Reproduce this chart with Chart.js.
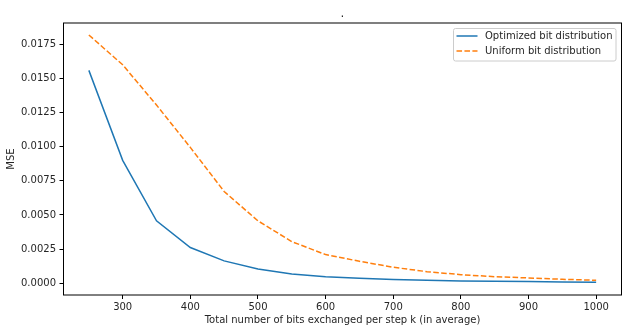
<!DOCTYPE html>
<html>
<head>
<meta charset="utf-8">
<script src="https://cdn.jsdelivr.net/npm/chart.js@4"></script>
<style>
  html, body { margin: 0; padding: 0; background: #fff; }
  #wrap { width: 631px; height: 333px; }
</style>
</head>
<body>
<div id="wrap"><canvas id="mseChart" width="631" height="333"></canvas></div>
<script>
var bits = [250, 300, 350, 400, 450, 500, 550, 600, 650, 700, 750, 800, 850, 900, 950, 1000];
var optimizedMse = [0.01559, 0.00900, 0.00457, 0.00262, 0.00164, 0.00105, 0.00068, 0.00047, 0.00037, 0.00027, 0.00022, 0.00017, 0.00015, 0.00012, 0.00010, 0.00007];
var uniformMse = [0.01818, 0.01600, 0.01305, 0.00995, 0.00672, 0.00457, 0.00305, 0.00210, 0.00161, 0.00117, 0.00085, 0.00063, 0.00048, 0.00039, 0.00029, 0.00022];
var xTicks = [300, 400, 500, 600, 700, 800, 900, 1000];
var yTicks = [0, 0.0025, 0.005, 0.0075, 0.01, 0.0125, 0.015, 0.0175];
var seriesNames = ["Optimized bit distribution", "Uniform bit distribution"];
var chartTitle = ".";
var xTitle = "Total number of bits exchanged per step k (in average)";
var yTitle = "MSE";

var FONT = "'DejaVu Sans', sans-serif";
var TXT = "#262626";

function toPts(xs, ys) {
    return xs.map(function(x, i) { return {x: x, y: ys[i]}; });
}

// box around plot, title and legend like matplotlib
var extras = {
    id: "extras",
    afterDraw: function(chart) {
        var ctx = chart.ctx;
        var a = chart.chartArea;
        ctx.save();
        ctx.strokeStyle = "#000";
        ctx.lineWidth = 1;
        ctx.strokeRect(a.left, a.top, a.right - a.left, a.bottom - a.top);

        ctx.fillStyle = TXT;
        ctx.font = "12px " + FONT;
        ctx.textAlign = "center";
        ctx.textBaseline = "alphabetic";
        ctx.fillText(chartTitle, (a.left + a.right) / 2, 17);

        // legend
        var bx = 453.5, by = 28.5, bw = 162.5, bh = 32.5, r = 2;
        ctx.beginPath();
        ctx.moveTo(bx + r, by);
        ctx.arcTo(bx + bw, by, bx + bw, by + bh, r);
        ctx.arcTo(bx + bw, by + bh, bx, by + bh, r);
        ctx.arcTo(bx, by + bh, bx, by, r);
        ctx.arcTo(bx, by, bx + bw, by, r);
        ctx.closePath();
        ctx.fillStyle = "rgba(255,255,255,0.8)";
        ctx.fill();
        ctx.strokeStyle = "#cccccc";
        ctx.stroke();

        ctx.font = "10px " + FONT;
        ctx.textAlign = "left";
        ctx.textBaseline = "middle";
        chart.data.datasets.forEach(function(ds, i) {
            var ly = 36 + i * 15;
            ctx.beginPath();
            ctx.strokeStyle = ds.borderColor;
            ctx.lineWidth = ds.borderWidth;
            ctx.setLineDash(ds.borderDash || []);
            ctx.moveTo(456.5, ly);
            ctx.lineTo(477.5, ly);
            ctx.stroke();
            ctx.setLineDash([]);
            ctx.fillStyle = TXT;
            ctx.fillText(ds.label, 485, ly + 0.5);
        });
        ctx.restore();
    }
};

var chart = new Chart(document.getElementById("mseChart").getContext("2d"), {
    type: "line",
    data: {
        datasets: [{
            label: seriesNames[0],
            data: toPts(bits, optimizedMse),
            borderColor: "#1f77b4",
            borderWidth: 1.5,
            pointRadius: 0,
            fill: false,
            tension: 0
        }, {
            label: seriesNames[1],
            data: toPts(bits, uniformMse),
            borderColor: "#ff7f0e",
            borderWidth: 1.5,
            borderDash: [5.55, 2.4],
            pointRadius: 0,
            fill: false,
            tension: 0
        }]
    },
    options: {
        responsive: false,
        animation: false,
        layout: {padding: {top: 23, right: 9.5, left: 0, bottom: 0}},
        plugins: {legend: {display: false}, tooltip: {enabled: false}},
        scales: {
            x: {
                type: "linear",
                min: 212.5,
                max: 1037.5,
                afterBuildTicks: function(s) { s.ticks = xTicks.map(function(v) { return {value: v}; }); },
                afterFit: function(s) { s.height = 38; },
                grid: {drawOnChartArea: false, drawTicks: true, tickLength: 4, color: "#000"},
                border: {display: false},
                ticks: {
                    color: TXT, font: {family: FONT, size: 10}, padding: 2, maxRotation: 0,
                    callback: function(v) { return String(v); }
                },
                title: {display: true, text: xTitle, color: TXT, font: {family: FONT, size: 10}, padding: {top: 0, bottom: 7}}
            },
            y: {
                min: -0.00086,
                max: 0.01906,
                afterBuildTicks: function(s) { s.ticks = yTicks.map(function(v) { return {value: v}; }); },
                afterFit: function(s) { s.width = 63.5; },
                grid: {drawOnChartArea: false, drawTicks: true, tickLength: 4, color: "#000"},
                border: {display: false},
                ticks: {
                    color: TXT, font: {family: FONT, size: 10}, padding: 3.5,
                    callback: function(v) { return Number(v).toFixed(4); }
                },
                title: {display: true, text: yTitle, color: TXT, font: {family: FONT, size: 10}, padding: {top: 5, bottom: 0}}
            }
        }
    },
    plugins: [extras]
});
</script>
</body>
</html>
